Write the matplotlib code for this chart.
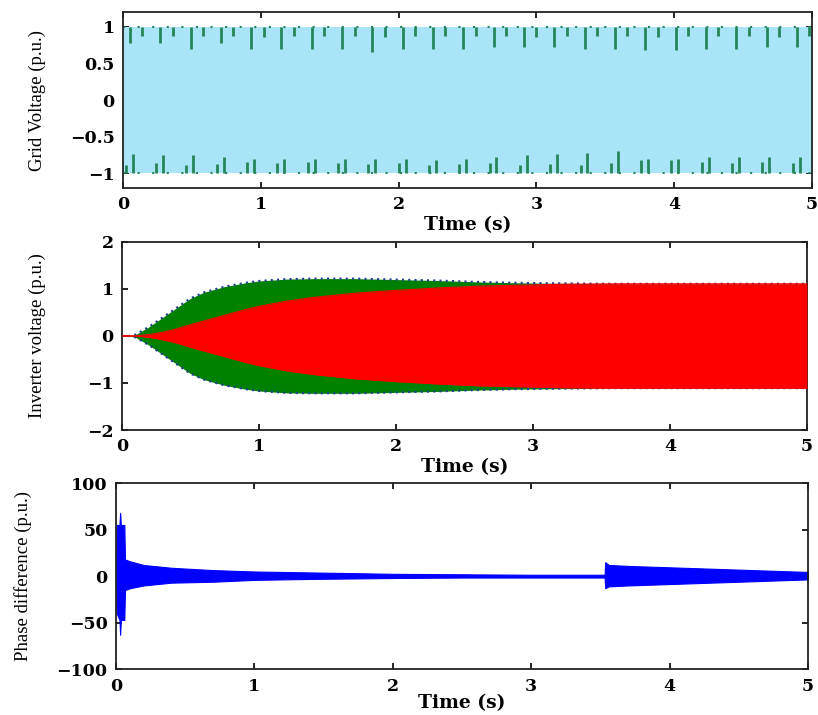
import matplotlib
matplotlib.use("Agg")
import matplotlib.pyplot as plt
import numpy as np

# --- dati ---
grid_t = [0.0, 5.0]
grid_amp = [1.0, 1.0]

# spike verdi (profondita' in p.u. dal bordo)
top_long_t = np.arange(0.05, 5.0, 0.22)
top_long_d = [0.22, 0.22, 0.30, 0.22, 0.30, 0.30, 0.30, 0.30, 0.35, 0.30, 0.30, 0.30,
              0.27, 0.27, 0.27, 0.30, 0.30, 0.32, 0.32, 0.30, 0.30, 0.27, 0.27]
top_short_d = [0.12, 0.12, 0.13, 0.12, 0.14, 0.13, 0.12, 0.13, 0.14, 0.12, 0.13, 0.12,
               0.13, 0.14, 0.12, 0.13, 0.12, 0.14, 0.13, 0.12, 0.13, 0.14, 0.12]
bot_long_t = np.arange(0.07, 5.0, 0.22)
bot_long_d = [0.27, 0.25, 0.25, 0.22, 0.20, 0.20, 0.20, 0.20, 0.20, 0.20, 0.18, 0.20,
              0.22, 0.25, 0.27, 0.28, 0.30, 0.20, 0.20, 0.22, 0.22, 0.22, 0.22]
bot_short_d = [0.12, 0.14, 0.12, 0.13, 0.15, 0.14, 0.15, 0.14, 0.13, 0.14, 0.12, 0.13,
               0.14, 0.12, 0.13, 0.12, 0.14, 0.18, 0.18, 0.15, 0.14, 0.15, 0.14]

inv_t = [0, 0.05, 0.1, 0.2, 0.3, 0.4, 0.5, 0.6, 0.75, 0.9, 1.0, 1.2, 1.4, 1.7, 2.0,
         2.3, 2.6, 2.9, 3.2, 3.6, 4.0, 4.5, 5.0]
inv_green = [0, 0, 0.03, 0.2, 0.4, 0.6, 0.8, 0.93, 1.05, 1.13, 1.17, 1.21, 1.22, 1.22,
             1.2, 1.18, 1.15, 1.13, 1.12, 1.11, 1.11, 1.11, 1.11]
inv_red = [0, 0, 0, 0.03, 0.08, 0.15, 0.24, 0.32, 0.44, 0.56, 0.63, 0.74, 0.82, 0.91,
           0.97, 1.02, 1.06, 1.08, 1.1, 1.11, 1.11, 1.11, 1.11]

ph_t = [0, 0.005, 0.025, 0.03, 0.035, 0.06, 0.065, 0.1, 0.2, 0.4, 0.7, 1.0, 1.4, 2.0,
        2.5, 3.0, 3.53, 3.535, 3.56, 3.7, 4.0, 4.3, 4.6, 5.0]
ph_up = [0, 55, 55, 68, 55, 55, 18, 16, 12, 9, 6.5, 5, 4, 2.5, 2, 1.5, 1.5, 15, 12, 11,
         9.5, 8, 6.5, 4.5]
ph_lo = [0, -40, -47, -63, -47, -47, -15, -13, -10, -7, -6, -4, -3, -2, -1.5, -1.5,
         -1.5, -13, -11, -10, -8.5, -7, -5.5, -3.5]

tick_font = dict(family="DejaVu Serif", weight="bold", size=12.5)
xlab_font = dict(family="DejaVu Serif", weight="bold", size=13.5)
ylab_font = dict(family="Liberation Serif", size=13.5)


def style_axes(ax, ylim, yticks, ytl, label, label_x, xpad=2):
    ax.set_xlim(0, 5)
    ax.set_ylim(*ylim)
    ax.set_xticks(range(6))
    ax.set_yticks(yticks)
    ax.set_xticklabels([str(i) for i in range(6)], fontdict=tick_font)
    ax.set_yticklabels(ytl, fontdict=tick_font)
    ax.tick_params(direction="in", top=True, right=True, length=4, width=1.2, pad=6)
    ax.set_axisbelow(True)
    for s in ax.spines.values():
        s.set_linewidth(1.3)
        s.set_color("#222222")
    ax.set_xlabel("Time (s)", fontdict=xlab_font, labelpad=xpad)
    ax.set_ylabel(label, fontdict=ylab_font, va="center")
    ax.yaxis.set_label_coords(label_x, 0.5)


fig = plt.figure(figsize=(8.18, 7.15), dpi=100)

# --- Grid voltage ---
ax1 = fig.add_axes([0.1504, 0.737, 0.8423, 0.246])
amp = np.array(grid_amp)
ax1.fill_between(grid_t, -amp, amp, color="#a9e5f7", lw=0, zorder=1)
green = "#26855a"
ax1.plot(grid_t, amp, color=green, ls=(0, (1, 6)), lw=1.5, zorder=2)
ax1.plot(grid_t, -amp, color=green, ls=(0, (1, 6)), lw=1.5, zorder=2)
d = np.array(top_long_d)
ax1.vlines(top_long_t, 1 - d, 1, color=green, lw=2, zorder=3)
ax1.vlines(top_long_t + 0.09, 1 - np.array(top_short_d), 1, color=green, lw=2, zorder=3)
ax1.vlines(bot_long_t, -1, -1 + np.array(bot_long_d), color=green, lw=2, zorder=3)
ax1.vlines(bot_long_t - 0.05, -1, -1 + np.array(bot_short_d), color=green, lw=2, zorder=3)
style_axes(ax1, (-1.2, 1.2), [-1, -0.5, 0, 0.5, 1], ["\u22121", "\u22120.5", "0", "0.5", "1"],
           "Grid Voltage (p.u.)", -0.125)

# --- Inverter voltage ---
ax2 = fig.add_axes([0.149, 0.3986, 0.8374, 0.263])
g = np.array(inv_green)
r = np.array(inv_red)
ax2.fill_between(inv_t, -g, g, color="#008000", lw=0, zorder=1)
ax2.plot(inv_t, g, color="#1f3f8f", ls=(0, (1, 2)), lw=1.5, zorder=2)
ax2.plot(inv_t, -g, color="#1f3f8f", ls=(0, (1, 2)), lw=1.5, zorder=2)
ax2.fill_between(inv_t, -r, r, color="#ff0000", lw=0, zorder=3)
ax2.plot(inv_t, r, color="#ff0000", lw=0.8, zorder=3)
ax2.plot(inv_t, -r, color="#ff0000", lw=0.8, zorder=3)
style_axes(ax2, (-2, 2), [-2, -1, 0, 1, 2], ["\u22122", "\u22121", "0", "1", "2"],
           "Inverter voltage (p.u.)", -0.123)

# --- Phase difference ---
ax3 = fig.add_axes([0.1418, 0.064, 0.846, 0.2604])
ax3.fill_between(ph_t, ph_lo, ph_up, color="#0000ff", lw=0.8, edgecolor="#0000ff", zorder=1)
style_axes(ax3, (-100, 100), [-100, -50, 0, 50, 100], ["\u2212100", "\u221250", "0", "50", "100"],
           "Phase difference (p.u.)", -0.134, xpad=0)

fig.savefig("out.png", dpi=100)
